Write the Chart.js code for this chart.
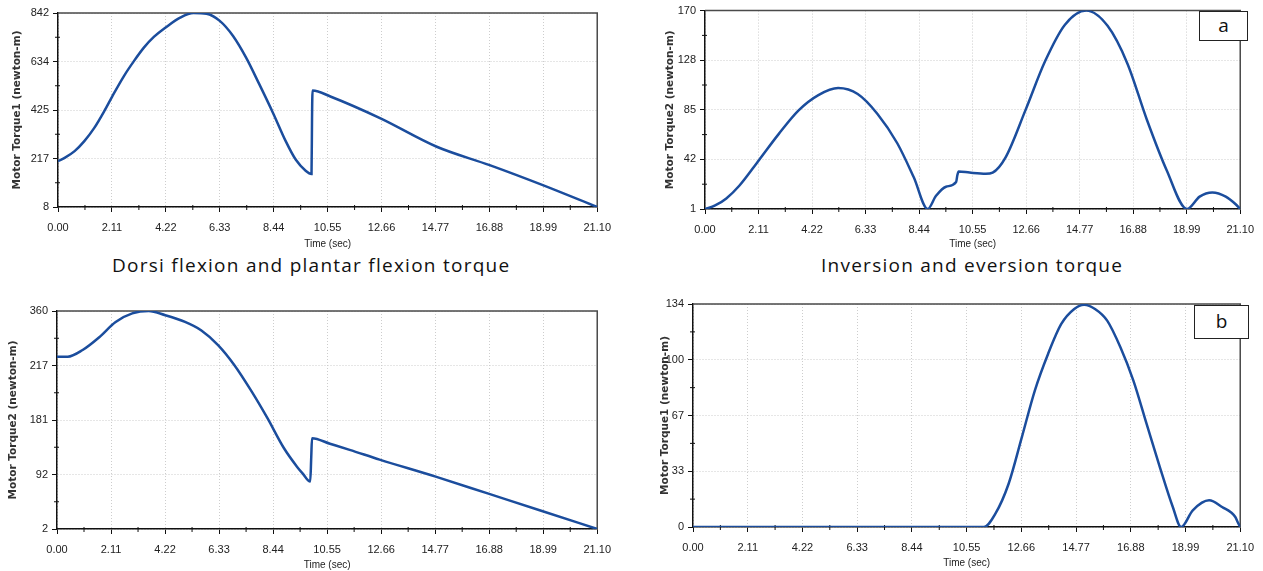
<!DOCTYPE html>
<html>
<head>
<meta charset="utf-8">
<script src="https://cdn.jsdelivr.net/npm/chart.js@4.4.0/dist/chart.umd.min.js"></script>
<style>
    body { margin: 0; background: #fff; }
    #page { position: relative; width: 1263px; height: 571px; overflow: hidden; background: #fff; }
    canvas { position: absolute; }
    .caption { position: absolute; font-family: "Open Sans", sans-serif; font-size: 19px; letter-spacing: 1.25px;
               color: #111; white-space: nowrap; }
    .tag { position: absolute; border: 1px solid #222; background: #fff; font-family: "Open Sans", sans-serif;
           font-size: 19px; color: #111; text-align: center; box-sizing: border-box; }
</style>
</head>
<body>
<div id="page">
    <canvas id="c1" width="620" height="252" style="left:0;top:0"></canvas>
    <canvas id="c2" width="623" height="252" style="left:640px;top:0"></canvas>
    <canvas id="c3" width="620" height="281" style="left:0;top:290px"></canvas>
    <canvas id="c4" width="623" height="281" style="left:640px;top:290px"></canvas>
    <div class="caption" style="left:112px;top:252px">Dorsi flexion and plantar flexion torque</div>
    <div class="caption" style="left:821px;top:252px">Inversion and eversion torque</div>
    <div class="tag" style="left:1199px;top:11px;width:49px;height:30px;line-height:27px">a</div>
    <div class="tag" style="left:1194px;top:305px;width:55px;height:34px;line-height:31px">b</div>
</div>
<script>
// Time ticks shared by all four plots
const timeTicks = [0, 2.11, 4.22, 6.33, 8.44, 10.55, 12.66, 14.77, 16.88, 18.99, 21.10];

// Top left: dorsi / plantar flexion, Motor Torque1
const time1 = [0, 0.26, 0.65, 1.03, 1.42, 1.81, 2.13, 2.58, 2.97, 3.36, 3.75, 4.24, 4.78, 5.3, 5.81, 6.33, 6.85, 7.36, 7.88, 8.44, 8.91, 9.3, 9.69, 9.92, 9.94, 9.96, 10.68, 12.62, 14.82, 16.89, 18.97, 21.1];
const torque1 = [205, 219, 248, 291, 348, 420, 485, 571, 635, 693, 739, 782, 822, 842, 839, 808, 743, 650, 535, 406, 291, 212, 164, 150, 390, 509, 482, 389, 267, 188, 102, 8];
const ticks1 = ['8', '217', '425', '634', '842'];

// Top right: inversion / eversion, Motor Torque2
const time2 = [0, 0.4, 0.84, 1.36, 2.14, 2.91, 3.69, 4.47, 5.25, 6.02, 6.8, 7.58, 8.23, 8.78, 9.1, 9.5, 9.9, 9.95, 10.0, 10.43, 11.07, 11.34, 11.85, 12.63, 13.41, 14.19, 15.03, 15.87, 16.65, 17.42, 18.2, 19.0, 19.5, 20.0, 20.53, 20.92, 21.1];
const torque2 = [1, 4, 10, 21, 43, 65, 85, 98, 104, 99, 82, 57, 28, 1, 12, 20, 24, 30, 33, 32, 31, 32, 45, 85, 127, 158, 170, 157, 125, 77, 34, 1, 11.5, 15, 11.5, 5, 1];
const ticks2 = ['1', '42', '85', '128', '170'];

// Bottom left: dorsi / plantar flexion, Motor Torque2
const time3 = [0, 0.42, 1.0, 1.65, 2.29, 2.94, 3.58, 4.23, 5.0, 5.64, 6.29, 6.93, 7.57, 8.22, 8.86, 9.38, 9.6, 9.89, 9.93, 9.96, 10.66, 11.43, 12.6, 14.79, 16.85, 18.91, 21.1];
const torque3 = [285, 285, 296, 317, 342, 356, 360, 353, 342, 328, 304, 271, 230, 184, 135, 104, 93, 80, 120, 151, 142, 132, 116, 88, 60, 32, 2];
const ticks3 = ['2', '92', '181', '217', '360'];

// Bottom right: inversion / eversion, Motor Torque1
const time4 = [0, 11.22, 11.66, 12.17, 12.68, 13.18, 13.69, 14.2, 14.7, 15.08, 15.5, 15.97, 16.48, 16.98, 17.49, 18.0, 18.5, 18.82, 19.27, 19.9, 20.4, 20.91, 21.0, 21.1];
const torque4 = [0, 0, 8, 26, 54, 82, 104, 122, 131, 133.5, 131, 124, 108, 88, 62, 36, 12, 0, 10, 16, 12, 6, 3, 0];
const ticks4 = ['0', '33', '67', '100', '134'];

const lineColor = '#1b4d9d';
const tickFont = { family: "'Liberation Sans Narrow', 'Arial Narrow', sans-serif", size: 11 };

// top/right frame and the small minor ticks half way between the major ones
const frame = {
    id: 'frame',
    beforeDatasetsDraw(chart) {
        const { ctx, chartArea: a, scales: { x, y } } = chart;
        ctx.save();
        ctx.strokeStyle = '#4a4a4a';
        ctx.lineWidth = 1.5;
        ctx.beginPath();
        ctx.moveTo(a.left, a.top);
        ctx.lineTo(a.right, a.top);
        ctx.lineTo(a.right, a.bottom);
        ctx.stroke();

        ctx.strokeStyle = '#111';
        ctx.lineWidth = 1;
        ctx.beginPath();
        for (let i = 1; i < x.ticks.length; i++) {
            const px = x.getPixelForValue((x.ticks[i - 1].value + x.ticks[i].value) / 2);
            ctx.moveTo(px, a.bottom - 2);
            ctx.lineTo(px, a.bottom + 3);
        }
        for (let i = 1; i < y.ticks.length; i++) {
            const py = y.getPixelForValue((y.ticks[i - 1].value + y.ticks[i].value) / 2);
            ctx.moveTo(a.left - 3, py);
            ctx.lineTo(a.left + 2, py);
        }
        ctx.stroke();
        ctx.restore();
    }
};

function makeChart(id, times, values, yLabels, yMin, yMax, yTitle, box) {
    const yPos = yLabels.map((_, i) => yMin + i * (yMax - yMin) / (yLabels.length - 1));
    new Chart(document.getElementById(id), {
        type: 'line',
        data: {
            datasets: [{
                data: times.map((t, i) => ({ x: t, y: values[i] })),
                borderColor: lineColor,
                borderWidth: 2.5,
                pointRadius: 0,
                cubicInterpolationMode: 'monotone',
                fill: false
            }]
        },
        options: {
            responsive: false,
            animation: false,
            events: [],
            layout: { padding: { left: 0, right: box.right, top: box.top, bottom: 0 } },
            plugins: { legend: { display: false }, tooltip: { enabled: false } },
            scales: {
                x: {
                    type: 'linear',
                    min: 0,
                    max: 21.1,
                    afterBuildTicks: s => { s.ticks = timeTicks.map(v => ({ value: v })); },
                    afterFit: s => { s.height = box.xh; },
                    ticks: {
                        autoSkip: false,
                        maxRotation: 0,
                        padding: 9,
                        color: '#222',
                        font: tickFont,
                        callback: (v, i) => timeTicks[i].toFixed(2)
                    },
                    grid: { color: '#cdcdcd', tickColor: '#111', tickLength: 5, tickBorderDash: [] },
                    border: { color: '#111', width: 1.5, dash: [1, 2] },
                    title: {
                        display: true,
                        text: 'Time (sec)',
                        color: '#222',
                        font: { family: tickFont.family, size: 10 },
                        padding: { top: 0, bottom: box.xt }
                    }
                },
                y: {
                    min: yMin,
                    max: yMax,
                    afterBuildTicks: s => { s.ticks = yPos.map(v => ({ value: v })); },
                    afterFit: s => { s.width = box.yw; },
                    ticks: {
                        autoSkip: false,
                        padding: 4,
                        color: '#222',
                        font: tickFont,
                        callback: (v, i) => yLabels[i]
                    },
                    grid: { color: '#cdcdcd', tickColor: '#111', tickLength: 5, tickBorderDash: [] },
                    border: { color: '#111', width: 1.5, dash: [1, 2] },
                    title: {
                        display: true,
                        text: yTitle,
                        color: '#333',
                        font: { family: "'DejaVu Sans', sans-serif", size: 10.5, weight: 'bold' },
                        padding: { top: box.yt, bottom: 0 }
                    }
                }
            }
        },
        plugins: [frame]
    });
}

makeChart('c1', time1, torque1, ticks1, 8, 842, 'Motor Torque1 (newton-m)', { right: 18, top: 13, xh: 45, xt: 2, yw: 58, yt: 11 });
makeChart('c2', time2, torque2, ticks2, 1, 170, 'Motor Torque2 (newton-m)', { right: 15, top: 10, xh: 43, xt: 2, yw: 65, yt: 24 });
makeChart('c3', time3, torque3, ticks3, 2, 360, 'Motor Torque2 (newton-m)', { right: 17, top: 21, xh: 42, xt: 0, yw: 57, yt: 7 });
makeChart('c4', time4, torque4, ticks4, 0, 134, 'Motor Torque1 (newton-m)', { right: 15, top: 14, xh: 44, xt: 2, yw: 53, yt: 19 });
</script>
</body>
</html>
